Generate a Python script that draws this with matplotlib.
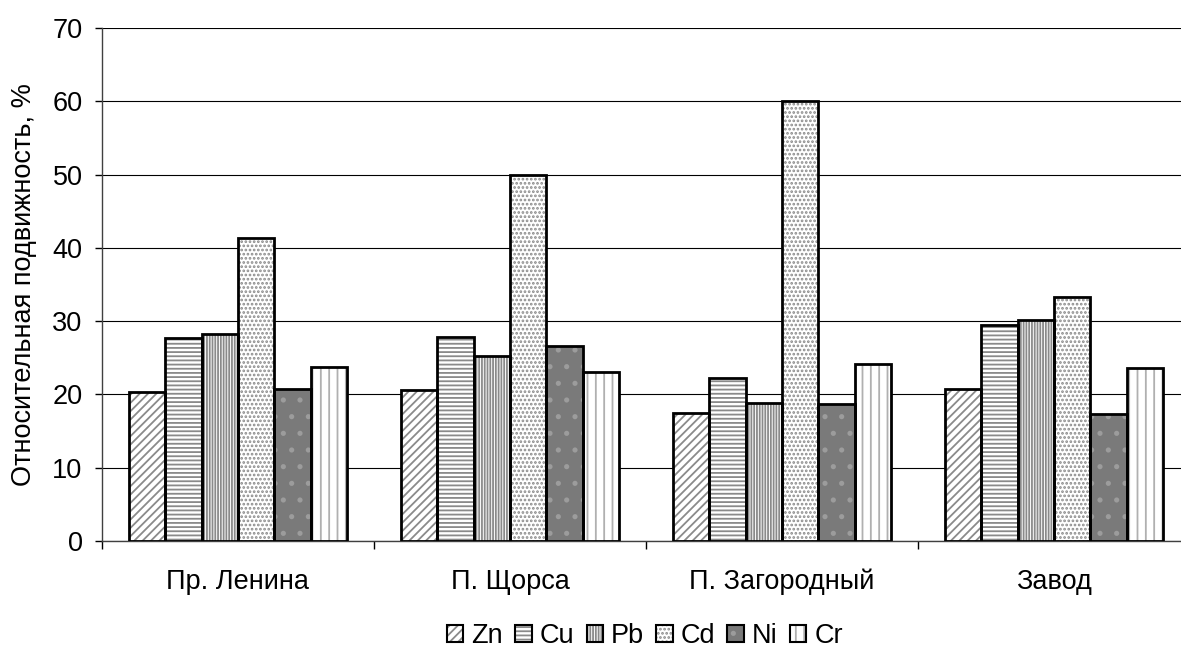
import numpy as np
import matplotlib
matplotlib.use('Agg')
import matplotlib.pyplot as plt
from matplotlib.patches import Patch

plt.rcParams['font.family'] = ['Liberation Sans', 'DejaVu Sans']
plt.rcParams['hatch.linewidth'] = 1.3

sites = ['Пр. Ленина', 'П. Щорса', 'П. Загородный', 'Завод']
metals = ['Zn', 'Cu', 'Pb', 'Cd', 'Ni', 'Cr']

zn = [20.3, 20.6, 17.5, 20.7]
cu = [27.7, 27.8, 22.3, 29.5]
pb = [28.2, 25.2, 18.8, 30.2]
cd = [41.3, 50.0, 60.0, 33.3]
ni = [20.7, 26.6, 18.7, 17.3]
cr = [23.7, 23.1, 24.1, 23.6]
series = [zn, cu, pb, cd, ni, cr]

# fill, hatch, hatch colour for each metal
styles = [
    ('white', '////', '#8a8a8a'),
    ('white', '----', '#8a8a8a'),
    ('white', '||||||', '#8a8a8a'),
    ('white', '....', '#8a8a8a'),
    ('#7a7a7a', '.', '#9c9c9c'),
    ('white', '||', '#b0b0b0'),
]

fs = 19.5

fig = plt.figure(figsize=(11.81, 6.58), dpi=100)
ax = fig.add_axes([102 / 1181, 1 - 541 / 658, 1088 / 1181, 513 / 658])

x = np.arange(len(sites))
w = 0.134
handles = []
for i, (vals, (fc, hatch, hc)) in enumerate(zip(series, styles)):
    pos = x + (i - 2.5) * w
    ax.bar(pos, vals, w, color=fc, hatch=hatch, edgecolor=hc, linewidth=0, zorder=2)
    ax.bar(pos, vals, w, fill=False, edgecolor='black', linewidth=2, zorder=3)
    h1 = Patch(facecolor=fc, hatch=hatch, edgecolor=hc, linewidth=0)
    h2 = Patch(fill=False, edgecolor='black', linewidth=1.5)
    handles.append((h1, h2))

ax.set_xlim(-0.5, 3.5)
ax.set_ylim(0, 70)
ax.set_yticks(np.arange(0, 71, 10))
ax.yaxis.grid(True, color='black', linewidth=0.8)
ax.set_axisbelow(True)

ax.set_xticks(x)
ax.set_xticklabels(sites)
ax.set_xticks([-0.5, 0.5, 1.5, 2.5], minor=True)
ax.tick_params(axis='x', which='major', length=0, pad=20, labelsize=fs)
ax.tick_params(axis='x', which='minor', length=6, width=1)
ax.tick_params(axis='y', length=5, width=1, labelsize=fs, pad=9)

for s in ['top', 'right']:
    ax.spines[s].set_visible(False)
for s in ['left', 'bottom']:
    ax.spines[s].set_color('#404040')
    ax.spines[s].set_linewidth(1)

ax.set_ylabel('Относительная подвижность, %', fontsize=fs)
ax.yaxis.set_label_coords(-65 / 1088, 0.5)

fig.legend(handles, metals, loc='center', bbox_to_anchor=(645 / 1181, 1 - 636 / 658), ncol=6,
           frameon=False, fontsize=fs, handlelength=0.6, handleheight=0.6,
           handletextpad=0.3, columnspacing=0.45, borderpad=0)

fig.savefig('out.png', dpi=100)
